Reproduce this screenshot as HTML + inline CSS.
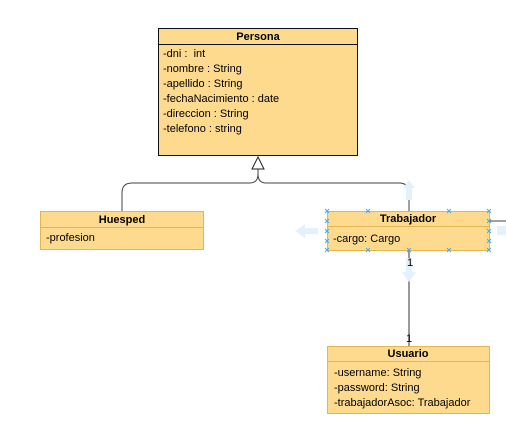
<!DOCTYPE html>
<html><head><meta charset="utf-8"><style>
html,body{margin:0;padding:0;background:#fff;}
svg{display:block;}
text{font-family:"Liberation Sans",Arial,sans-serif;font-size:11px;fill:#000;}
.b{font-weight:bold;}
</style></head><body>
<svg width="506" height="436" viewBox="0 0 506 436" xmlns="http://www.w3.org/2000/svg">
<g fill="none" stroke="#444" stroke-width="1">
<path d="M258 169 V174 Q258 183 250 183 H132 Q122 183 122 193 V211"/>
<path d="M258 174 Q258 183 266 183 H399 Q409 183 409 193 V211"/>
<path d="M409 251 V346" stroke="#777" stroke-width="1.5"/>
<path d="M490 221 H506"/>
</g>
<path d="M258 157 L252 169 H264 Z" fill="#fff" stroke="#222" stroke-width="1"/>
<g fill="#e3f1fc">
<path d="M409 180 L403 188 H406 V200 H412 V188 H415 Z"/>
<path d="M295 231 L305 224 V228 H318 V234 H305 V238 Z"/>
<path d="M497 226 H506 V235 H497 Z"/>
<path d="M409 282 L402 272 H406 V258 H412 V272 H416 Z"/>
</g>
<rect x="158.5" y="28.5" width="199" height="127" fill="#fdda8e" stroke="#111"/>
<line x1="158.5" y1="44.5" x2="357.5" y2="44.5" stroke="#111"/>
<text x="258" y="40" text-anchor="middle" class="b">Persona</text>
<text x="163" y="57">-dni :&#160; int</text>
<text x="163" y="72">-nombre : String</text>
<text x="163" y="87">-apellido : String</text>
<text x="163" y="102">-fechaNacimiento : date</text>
<text x="163" y="117">-direccion : String</text>
<text x="163" y="132">-telefono : string</text>
<rect x="40.5" y="211.5" width="163" height="38" fill="#fdda8e" stroke="#e4b64f"/>
<line x1="40.5" y1="227.5" x2="203.5" y2="227.5" stroke="#e4b64f"/>
<text x="122" y="223" text-anchor="middle" class="b">Huesped</text>
<text x="46" y="241">-profesion</text>
<rect x="327.5" y="211.5" width="162" height="39" fill="#fdda8e" stroke="#e4b64f"/>
<line x1="327.5" y1="226.5" x2="489.5" y2="226.5" stroke="#e4b64f"/>
<text x="408" y="222" text-anchor="middle" class="b">Trabajador</text>
<text x="333" y="242">-cargo: Cargo</text>
<g stroke="#4aa8e8" stroke-width="1">
<path d="M325 209l4 4m0-4l-4 4M366 209l4 4m0-4l-4 4M447 209l4 4m0-4l-4 4M487 209l4 4m0-4l-4 4M325 219l4 4m0-4l-4 4M487 219l4 4m0-4l-4 4M325 229l4 4m0-4l-4 4M487 229l4 4m0-4l-4 4M325 239l4 4m0-4l-4 4M487 239l4 4m0-4l-4 4M325 248l4 4m0-4l-4 4M366 248l4 4m0-4l-4 4M407 248l4 4m0-4l-4 4M447 248l4 4m0-4l-4 4M487 248l4 4m0-4l-4 4"/>
</g>
<text x="407" y="266">1</text>
<text x="406" y="342">1</text>
<rect x="327.5" y="346.5" width="162" height="67" fill="#fdda8e" stroke="#e4b64f"/>
<line x1="327.5" y1="361.5" x2="489.5" y2="361.5" stroke="#e4b64f"/>
<text x="408" y="357" text-anchor="middle" class="b">Usuario</text>
<text x="334" y="376">-username: String</text>
<text x="334" y="391">-password: String</text>
<text x="334" y="406">-trabajadorAsoc: Trabajador</text>
</svg>
</body></html>
